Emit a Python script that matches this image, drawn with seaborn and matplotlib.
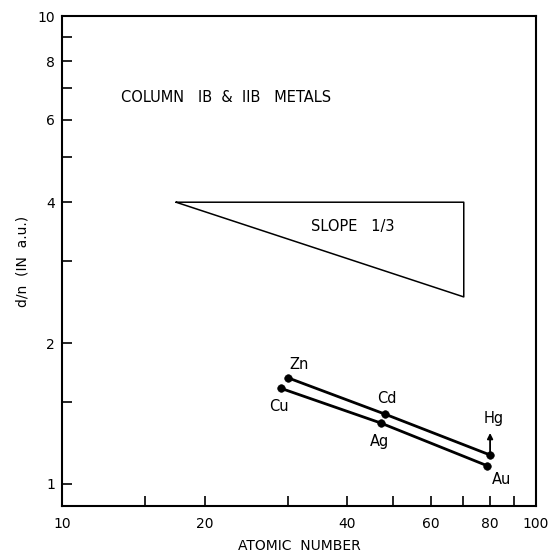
import matplotlib
matplotlib.use("Agg")
from matplotlib import pyplot as plt
from matplotlib.ticker import FixedLocator, FixedFormatter
import numpy as np
import pandas as pd
import seaborn as sns

# column IB metals
ib_names = ["Cu", "Ag", "Au"]
ib_z = [29, 47, 79]
ib_dn = [1.60, 1.35, 1.093]

# column IIB metals
iib_names = ["Zn", "Cd", "Hg"]
iib_z = [30, 48, 80]
iib_dn = [1.685, 1.41, 1.153]

# slope 1/3 guide triangle
tri_x = [17.4, 70.4, 70.4, 17.4]
tri_y = [4.0, 4.0, 2.51, 4.0]

x_ticks = [10, 15, 20, 30, 40, 50, 60, 70, 80, 90, 100]
x_labels = ["10", "", "20", "", "40", "", "60", "", "80", "", "100"]
y_ticks = [1, 1.5, 2, 3, 4, 5, 6, 7, 8, 9, 10]
y_labels = ["1", "", "2", "", "4", "", "6", "", "8", "", "10"]

sns.set_style("ticks")
plt.rcParams['font.family'] = ['DejaVu Sans']
plt.rcParams['text.color'] = 'black'
plt.rcParams['axes.labelcolor'] = 'black'

fig = plt.figure(figsize=(5.55, 5.56), dpi=100)
ax = fig.add_axes([0.1117, 0.0899, 0.8541, 0.8813])

df = pd.DataFrame({
    "z": ib_z + iib_z,
    "dn": ib_dn + iib_dn,
    "group": ["IB"] * 3 + ["IIB"] * 3,
    "name": ib_names + iib_names,
})

sns.lineplot(data=df, x="z", y="dn", units="group", estimator=None,
             color="black", linewidth=2.0, ax=ax, sort=True)
sns.scatterplot(data=df, x="z", y="dn", color="black", s=30,
                edgecolor="black", ax=ax, zorder=5)

ax.set_xscale("log")
ax.set_yscale("log")
ax.set_xlim(10, 100)
ax.set_ylim(0.897, 10)

ax.plot(tri_x, tri_y, color="black", linewidth=1.1)

# labels of the points (offsets in pixels)
offsets = {"Cu": (-2, -18), "Ag": (-1, -19), "Au": (14, -14),
           "Zn": (11, 13), "Cd": (2, 16), "Hg": (4, 36)}
for _, r in df.iterrows():
    dx, dy = offsets[r["name"]]
    ax.annotate(r["name"], (r["z"], r["dn"]), xytext=(dx, dy),
                textcoords="offset pixels", ha="center", va="center",
                fontsize=10.5, color="black")

# Hg is a lower limit
ax.annotate("", xy=(80, 1.285), xytext=(80, 1.153),
            arrowprops=dict(arrowstyle="-|>", color="black", lw=1.3,
                            mutation_scale=8, shrinkA=0, shrinkB=0))

ax.text(13.3, 6.71, "COLUMN   IB  &  IIB   METALS", fontsize=10.5,
        ha="left", va="center", color="black")
ax.text(33.5, 3.55, "SLOPE   1/3", fontsize=10.5, ha="left", va="center",
        color="black")

ax.xaxis.set_major_locator(FixedLocator(x_ticks))
ax.xaxis.set_major_formatter(FixedFormatter(x_labels))
ax.xaxis.set_minor_locator(FixedLocator([]))
ax.yaxis.set_major_locator(FixedLocator(y_ticks))
ax.yaxis.set_major_formatter(FixedFormatter(y_labels))
ax.yaxis.set_minor_locator(FixedLocator([]))
ax.tick_params(direction="in", length=7, width=1.2, labelsize=10,
               colors="black", pad=8)
ax.tick_params(axis="y", pad=5)

for sp in ax.spines.values():
    sp.set_linewidth(1.5)
    sp.set_color("black")

ax.set_xlabel("ATOMIC  NUMBER", fontsize=10, labelpad=6)
ax.set_ylabel("d/n  (IN  a.u.)", fontsize=10, labelpad=6)

fig.savefig("out.png", dpi=100)
